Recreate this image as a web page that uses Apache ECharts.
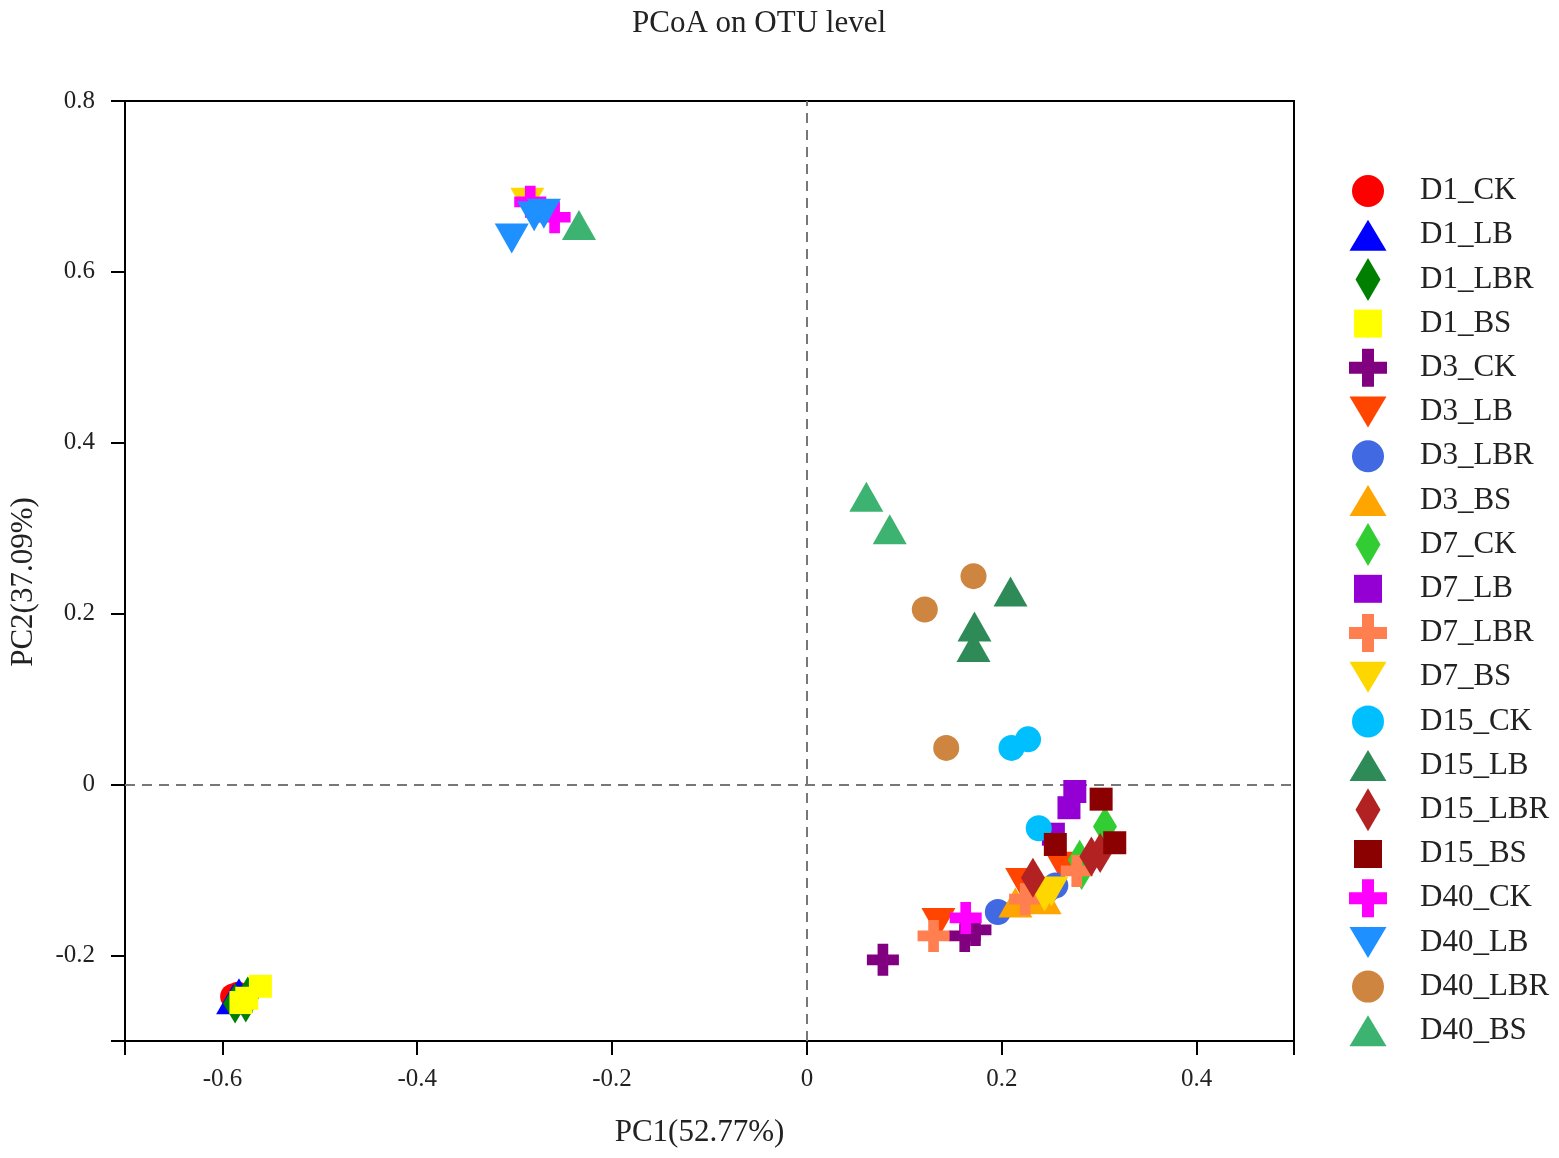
<!DOCTYPE html>
<html>
<head>
<meta charset="utf-8">
<script src="https://cdn.jsdelivr.net/npm/echarts@6/dist/echarts.min.js"></script>
<style>
  html, body { margin: 0; padding: 0; background: #fff; }
  #chart { width: 1559px; height: 1158px; }
</style>
</head>
<body>
<div id="chart"></div>
<script>
// groups in legend order
var groupNames = ['D1_CK','D1_LB','D1_LBR','D1_BS','D3_CK','D3_LB','D3_LBR','D3_BS',
  'D7_CK','D7_LB','D7_LBR','D7_BS','D15_CK','D15_LB','D15_LBR','D15_BS',
  'D40_CK','D40_LB','D40_LBR','D40_BS'];

// PC1, PC2 per sample
var D1_CK  = [[-0.589,-0.248],[-0.586,-0.251],[-0.584,-0.246]];
var D1_LB  = [[-0.589,-0.251],[-0.583,-0.244],[-0.586,-0.249]];
var D1_LBR = [[-0.587,-0.256],[-0.576,-0.255],[-0.574,-0.248]];
var D1_BS  = [[-0.561,-0.236],[-0.581,-0.255],[-0.575,-0.250]];
var D3_CK  = [[0.078,-0.205],[0.162,-0.177],[0.173,-0.170]];
var D3_LB  = [[0.135,-0.162],[0.262,-0.096],[0.221,-0.115]];
var D3_LBR = [[0.196,-0.149],[0.255,-0.118],[0.246,-0.124]];
var D3_BS  = [[0.214,-0.138],[0.244,-0.134],[0.228,-0.128]];
var D7_CK  = [[0.306,-0.049],[0.280,-0.088],[0.282,-0.100]];
var D7_LB  = [[0.275,-0.008],[0.269,-0.027],[0.253,-0.058]];
var D7_LBR = [[0.130,-0.177],[0.277,-0.101],[0.224,-0.134]];
var D7_BS  = [[-0.287,0.681],[0.251,-0.125],[0.244,-0.131]];
var D15_CK  = [[0.210,0.043],[0.227,0.053],[0.238,-0.051]];
var D15_LB  = [[0.209,0.226],[0.172,0.185],[0.171,0.161]];
var D15_LBR = [[0.232,-0.109],[0.292,-0.084],[0.301,-0.080]];
var D15_BS  = [[0.302,-0.017],[0.255,-0.070],[0.316,-0.068]];
var D40_CK  = [[-0.284,0.682],[-0.259,0.664],[0.163,-0.156]];
var D40_LB  = [[-0.303,0.639],[-0.280,0.665],[-0.270,0.668]];
var D40_LBR = [[0.171,0.244],[0.121,0.205],[0.143,0.043]];
var D40_BS  = [[-0.234,0.655],[0.061,0.337],[0.085,0.299]];

var groupData = [D1_CK,D1_LB,D1_LBR,D1_BS,D3_CK,D3_LB,D3_LBR,D3_BS,
  D7_CK,D7_LB,D7_LBR,D7_BS,D15_CK,D15_LB,D15_LBR,D15_BS,
  D40_CK,D40_LB,D40_LBR,D40_BS];

var groupColors = ['#FF0000','#0000FF','#007F00','#FFFF00','#800080','#FF4500','#4169E1','#FFA500',
  '#32CD32','#9400D3','#FF7F50','#FFD700','#00BFFF','#2E8B57','#B22222','#8B0000',
  '#FF00FF','#1E90FF','#CD853F','#3CB371'];

var groupShapes = ['o','^','d','s','+','v','o','^','d','s','+','v','o','^','d','s','+','v','o','^'];

var xTicks = [-0.7,-0.6,-0.4,-0.2,0,0.2,0.4,0.5];
var xLabels = [-0.6,-0.4,-0.2,0,0.2,0.4];
var yTicks = [-0.3,-0.2,0,0.2,0.4,0.6,0.8];
var yLabels = [-0.2,0,0.2,0.4,0.6,0.8];

var PLUS = 'path://M1,0 L2,0 L2,1 L3,1 L3,2 L2,2 L2,3 L1,3 L1,2 L0,2 L0,1 L1,1 Z';

// legend icons: all drawn in the same 38x44 box (the two moveTo's fix the box)
var BOX = 'path://M0,0 M38,44 ';
var LEG_ICON = {
  'o': BOX + 'M3,22 A16,16 0 1 1 35,22 A16,16 0 1 1 3,22 Z',
  '^': BOX + 'M0.5,37.5 L19,6.5 L37.5,37.5 Z',
  'v': BOX + 'M0.5,6.5 L37.5,6.5 L19,37.5 Z',
  'd': BOX + 'M19,0.5 L31.5,22 L19,43.5 L6.5,22 Z',
  's': BOX + 'M5,8 L33,8 L33,36 L5,36 Z',
  '+': BOX + 'M13,3 L25,3 L25,16 L38,16 L38,28 L25,28 L25,41 L13,41 L13,28 L0,28 L0,16 L13,16 Z'
};

function shapeStyle(s) {
  if (s == 'o') return { symbol: 'circle', size: 26, rotate: 0 };
  if (s == '^') return { symbol: 'triangle', size: [34, 30], rotate: 0 };
  if (s == 'v') return { symbol: 'triangle', size: [34, 30], rotate: 180 };
  if (s == 'd') return { symbol: 'diamond', size: [24, 40], rotate: 0 };
  if (s == 's') return { symbol: 'rect', size: 23, rotate: 0 };
  return { symbol: PLUS, size: 32, rotate: 0 };
}

var font = "'Liberation Serif', 'Times New Roman', serif";
var series = [], legendData = [];
for (var i = 0; i < groupNames.length; i++) {
  var st = shapeStyle(groupShapes[i]);
  var s = {
    name: groupNames[i],
    type: 'scatter',
    data: groupData[i],
    symbol: st.symbol,
    symbolSize: st.size,
    symbolRotate: st.rotate,
    itemStyle: { color: groupColors[i], opacity: 1 },
    emphasis: { disabled: true },
    z: 3 + i
  };
  if (i == 0) {
    s.markLine = {
      silent: true,
      symbol: ['none', 'none'],
      label: { show: false },
      lineStyle: { color: '#777', width: 2, type: [10, 7] },
      data: [{ xAxis: 0 }, { yAxis: 0 }],
      z: 1
    };
  }
  series.push(s);
  legendData.push({ name: groupNames[i], icon: LEG_ICON[groupShapes[i]] });
}

var chart = echarts.init(document.getElementById('chart'));
var option = {
  animation: false,
  backgroundColor: '#fff',
  title: {
    text: 'PCoA on OTU level',
    left: 627,
    top: 3,
    textStyle: { fontFamily: font, fontSize: 31, fontWeight: 'normal', color: '#222' }
  },
  grid: {
    left: 124, right: 265, top: 101, bottom: 117,
    show: true, borderColor: '#000', borderWidth: 2
  },
  legend: {
    orient: 'vertical',
    left: 1344,
    top: 164,
    itemWidth: 38,
    itemHeight: 44,
    itemGap: 0.2,
    symbolRotate: 0,
    selectedMode: false,
    data: legendData,
    textStyle: { fontFamily: font, fontSize: 31, color: '#222', padding: [0, 0, 0, 28], lineHeight: 32 }
  },
  xAxis: {
    type: 'value',
    min: -0.7,
    max: 0.5,
    name: 'PC1(52.77%)',
    nameLocation: 'middle',
    nameGap: 76,
    nameTextStyle: { fontFamily: font, fontSize: 31, color: '#222', padding: [0, 20, 0, 0] },
    axisLine: { show: true, onZero: false, lineStyle: { color: '#000', width: 2 } },
    axisTick: { show: true, length: 14, customValues: xTicks, lineStyle: { color: '#000', width: 2 } },
    axisLabel: { customValues: xLabels, margin: 26, fontFamily: font, fontSize: 25, color: '#222',
      formatter: function (v) { return v === 0 ? '0' : v.toFixed(1); } },
    splitLine: { show: false }
  },
  yAxis: {
    type: 'value',
    min: -0.3,
    max: 0.8,
    name: 'PC2(37.09%)',
    nameLocation: 'middle',
    nameGap: 86,
    nameRotate: 90,
    nameTextStyle: { fontFamily: font, fontSize: 31, color: '#222', padding: [0, 22, 0, 0] },
    axisLine: { show: true, onZero: false, lineStyle: { color: '#000', width: 2 } },
    axisTick: { show: true, length: 14, customValues: yTicks, lineStyle: { color: '#000', width: 2 } },
    axisLabel: { customValues: yLabels, margin: 30, fontFamily: font, fontSize: 25, color: '#222',
      formatter: function (v) { return v === 0 ? '0' : v.toFixed(1); } },
    splitLine: { show: false }
  },
  series: series
};
chart.setOption(option);
</script>
</body>
</html>
